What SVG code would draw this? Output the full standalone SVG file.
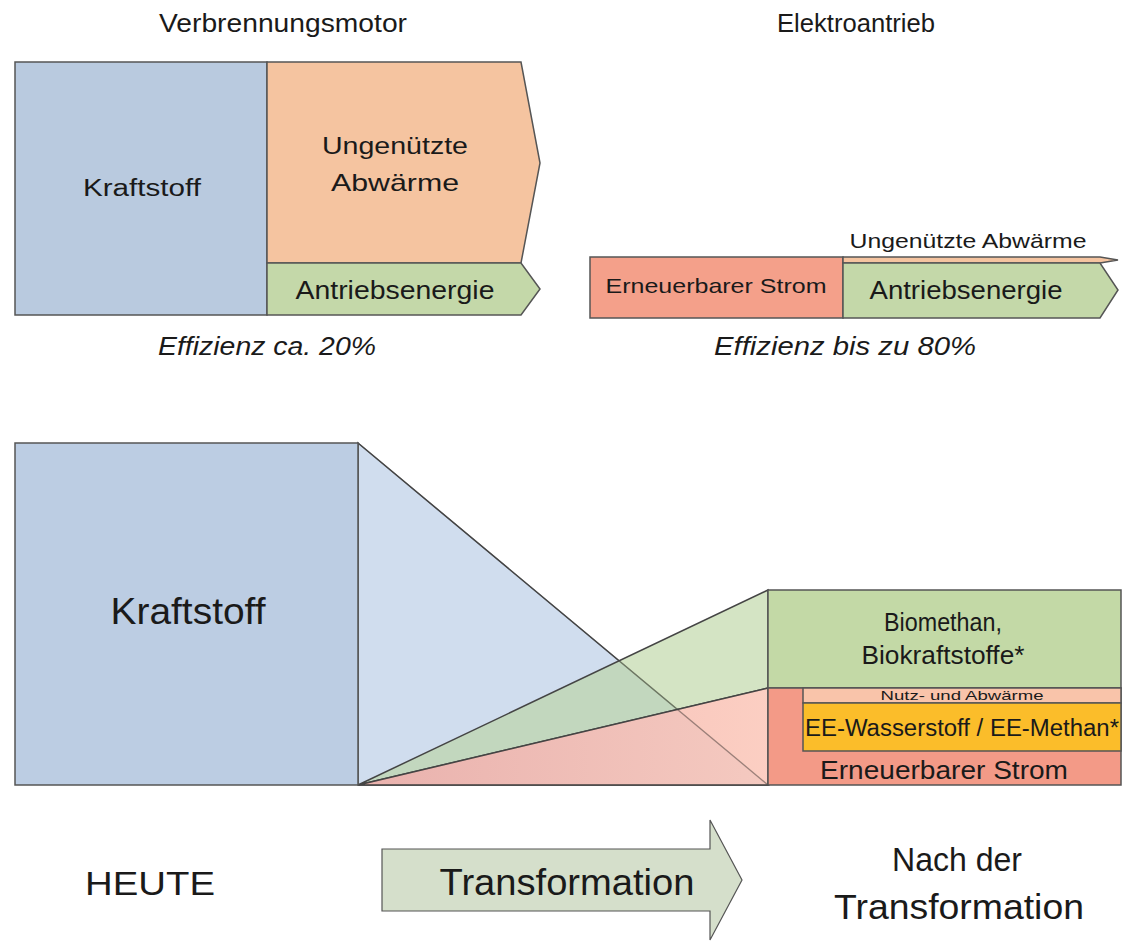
<svg xmlns="http://www.w3.org/2000/svg" width="1126" height="941" viewBox="0 0 1126 941">
<defs>
<style>
text{font-family:"Liberation Sans",Arial,sans-serif;fill:#1a1a1a;text-anchor:middle}
.box{stroke:#555;stroke-width:1.5}
.ln{stroke:#444;stroke-width:1.5}
.it{font-style:italic;font-size:25px}
.hd{font-size:25px}
</style>
<linearGradient id="rg" x1="0" y1="0" x2="1" y2="0">
<stop offset="0" stop-color="#eeaaa2"/>
<stop offset="1" stop-color="#fbc6b8"/>
</linearGradient>
</defs>
<rect width="1126" height="941" fill="#fff"/>

<g id="titles">
<text x="283" y="32" class="hd" textLength="248" lengthAdjust="spacingAndGlyphs">Verbrennungsmotor</text>
<text x="856" y="32" class="hd" textLength="158" lengthAdjust="spacingAndGlyphs">Elektroantrieb</text>
</g>

<g id="vm-kraftstoff">
<rect x="15" y="62" width="252" height="253" fill="#b9cadf" class="box"/>
<text x="142" y="196" font-size="23" textLength="118" lengthAdjust="spacingAndGlyphs">Kraftstoff</text>
</g>
<g id="vm-abwaerme">
<path d="M267 62 H521 L540 163 L521 263 H267 Z" fill="#f5c4a0" class="box"/>
<text x="395" y="154" font-size="24" textLength="146" lengthAdjust="spacingAndGlyphs">Ungenützte</text>
<text x="395" y="191" font-size="24" textLength="128" lengthAdjust="spacingAndGlyphs">Abwärme</text>
</g>
<g id="vm-antrieb">
<path d="M267 263 H521 L540 289 L521 315 H267 Z" fill="#c4d8a9" class="box"/>
<text x="395" y="299" font-size="25" textLength="199" lengthAdjust="spacingAndGlyphs">Antriebsenergie</text>
</g>
<text x="267" y="355" class="it" textLength="218" lengthAdjust="spacingAndGlyphs">Effizienz ca. 20%</text>

<g id="ea-strom">
<rect x="590" y="257" width="253" height="61" fill="#f4a08a" class="box"/>
<text x="716" y="293" font-size="21" textLength="221" lengthAdjust="spacingAndGlyphs">Erneuerbarer Strom</text>
</g>
<g id="ea-abwaerme">
<path d="M843 257 H1100 L1118 260 L1100 263 H843 Z" fill="#f5c4a0" class="box" stroke-width="1"/>
<text x="968" y="248" font-size="21" textLength="237" lengthAdjust="spacingAndGlyphs">Ungenützte Abwärme</text>
</g>
<g id="ea-antrieb">
<path d="M843 263 H1100 L1118 290 L1100 318 H843 Z" fill="#c4d8a9" class="box"/>
<text x="966" y="299" font-size="25" textLength="193" lengthAdjust="spacingAndGlyphs">Antriebsenergie</text>
</g>
<text x="845" y="355" class="it" textLength="262" lengthAdjust="spacingAndGlyphs">Effizienz bis zu 80%</text>

<g id="connectors">
<polygon points="358,443 768,785 358,785" fill="#d0ddee" class="ln"/>
<polygon points="358,785 768,590 768,688" fill="#b9d3a0" fill-opacity="0.62" class="ln"/>
<polygon points="358,785 768,688 768,785" fill="url(#rg)" fill-opacity="0.85" class="ln"/>
<line x1="358" y1="443" x2="768" y2="785" stroke="#444" stroke-width="1.2" stroke-opacity="0.45"/>
</g>

<g id="heute-kraftstoff">
<rect x="15" y="443" width="343" height="342" fill="#bccde3" class="box"/>
<text x="188" y="624" font-size="36" textLength="155" lengthAdjust="spacingAndGlyphs">Kraftstoff</text>
</g>

<g id="bio">
<rect x="768" y="590" width="353" height="98" fill="#c3d9a6" class="box"/>
<text x="943" y="631" font-size="25" textLength="118" lengthAdjust="spacingAndGlyphs">Biomethan,</text>
<text x="943" y="664" font-size="25" textLength="163" lengthAdjust="spacingAndGlyphs">Biokraftstoffe*</text>
</g>
<g id="strom">
<rect x="768" y="688" width="353" height="97" fill="#f39a87" class="box"/>
<text x="944" y="779" font-size="26" textLength="248" lengthAdjust="spacingAndGlyphs">Erneuerbarer Strom</text>
</g>
<g id="nutz">
<rect x="803" y="688" width="318" height="15" fill="#f9c4aa" class="box" stroke-width="1"/>
<text x="962" y="700" font-size="13" textLength="163" lengthAdjust="spacingAndGlyphs">Nutz- und Abwärme</text>
</g>
<g id="ee">
<rect x="803" y="703" width="318" height="48" fill="#fbbd2a" class="box"/>
<text x="962" y="736" font-size="23" textLength="314" lengthAdjust="spacingAndGlyphs">EE-Wasserstoff / EE-Methan*</text>
</g>

<g id="heute">
<text x="150" y="895" font-size="34" textLength="130" lengthAdjust="spacingAndGlyphs">HEUTE</text>
</g>
<g id="transformation">
<path d="M382 849 H710 V820 L742 880 L710 940 V911 H382 Z" fill="#d5dfcb" stroke="#555" stroke-width="1.2"/>
<text x="567" y="895" font-size="36" textLength="255" lengthAdjust="spacingAndGlyphs">Transformation</text>
</g>
<g id="nach">
<text x="957" y="871" font-size="33" textLength="130" lengthAdjust="spacingAndGlyphs">Nach der</text>
<text x="959" y="919" font-size="35" textLength="250" lengthAdjust="spacingAndGlyphs">Transformation</text>
</g>
</svg>
